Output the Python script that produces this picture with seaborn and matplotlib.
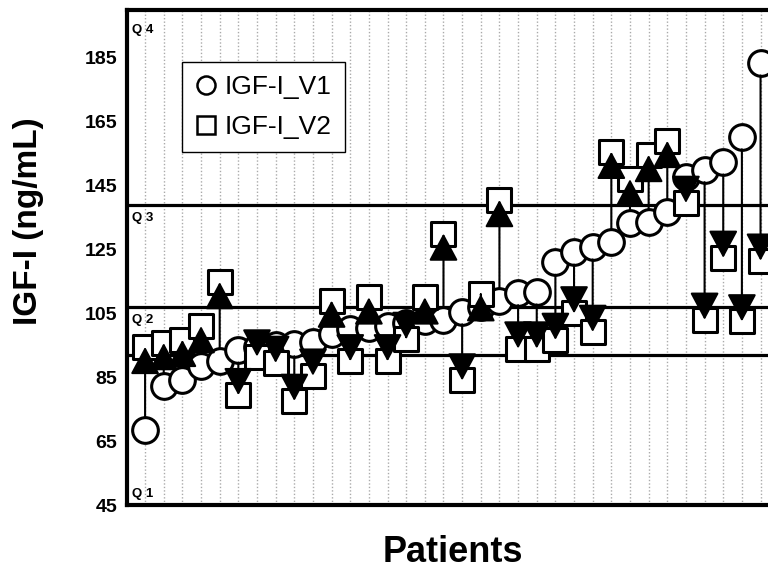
import numpy as np
import pandas as pd
import seaborn as sns
import matplotlib.pyplot as plt
from matplotlib.lines import Line2D

# ------------------------------------------------------------------
# Data: IGF-I at visit 1 (sorted) and visit 2, per patient
# ------------------------------------------------------------------
igf_v1 = [68.5, 82.3, 84.2, 88.5, 90.0, 93.5, 94.5, 95.0, 95.5, 96.0,
          98.5, 100.0, 100.5, 101.0, 102.0, 102.5, 103.0, 105.5, 107.0, 109.0,
          111.5, 111.7, 121.0, 124.2, 125.8, 127.5, 133.3, 133.5, 136.8, 147.7,
          150.0, 152.4, 160.3, 183.4]
igf_v2 = [94.5, 95.7, 96.7, 101.0, 114.8, 79.4, 91.5, 89.5, 77.6, 85.5,
          109.0, 90.0, 110.0, 90.0, 97.0, 110.0, 130.0, 84.0, 111.0, 140.5,
          94.0, 94.0, 96.7, 105.0, 99.2, 155.6, 147.0, 154.6, 159.0, 139.6,
          103.0, 122.4, 102.5, 121.5]
quartile_cuts = [92, 107, 139]
quartile_labels = ['Q 1', 'Q 2', 'Q 3', 'Q 4']

df = pd.DataFrame({'patient': np.arange(len(igf_v1)), 'v1': igf_v1, 'v2': igf_v2})

# ------------------------------------------------------------------
# Plot
# ------------------------------------------------------------------
sns.set_style('white')
plt.rcParams['font.family'] = ['Liberation Sans', 'DejaVu Sans']
plt.rcParams.update({'text.color': 'black', 'axes.labelcolor': 'black',
                     'xtick.color': 'black', 'ytick.color': 'black'})

fig = plt.figure(figsize=(7.68, 5.74), dpi=100)
ax = fig.add_axes([127 / 768, 69 / 574, 641 / 768, 495 / 574])

# quartile lines
for c in quartile_cuts:
    ax.axhline(c, color='black', lw=2.3, zorder=1)

# arrows V1 -> V2
for _, r in df.iterrows():
    ax.annotate('', xy=(r.patient, r.v2), xytext=(r.patient, r.v1),
                arrowprops=dict(arrowstyle='-|>,head_length=0.75,head_width=0.4',
                                color='black', lw=1.5, shrinkA=9, shrinkB=0,
                                mutation_scale=23),
                zorder=5)

sns.scatterplot(data=df, x='patient', y='v1', marker='o', s=18.5 ** 2, color='white',
                edgecolor='black', linewidth=2.2, ax=ax, zorder=3, legend=False)
sns.scatterplot(data=df, x='patient', y='v2', marker='s', s=17 ** 2, color='white',
                edgecolor='black', linewidth=2.2, ax=ax, zorder=4, legend=False)

ax.set_xlim(-0.97, 33.4)
ax.set_ylim(45, 200)
ax.set_yticks(range(45, 186, 20))
ax.set_xticks(df['patient'])
ax.set_xticklabels([])
ax.grid(axis='x', linestyle=(0, (1, 1.5)), color='#aaaaaa', lw=1, zorder=0)
ax.tick_params(axis='both', length=0)
ax.tick_params(axis='y', pad=7, labelsize=14)
for lab in ax.get_yticklabels():
    lab.set_fontweight('bold')

for side in ['left', 'top', 'bottom']:
    ax.spines[side].set_linewidth(3)
    ax.spines[side].set_color('black')
ax.spines['right'].set_visible(False)

# quartile labels
for lab, y, va in zip(quartile_labels, [46.5, quartile_cuts[1] - 2.3,
                                        quartile_cuts[2] - 2.3, 195.5],
                      ['bottom', 'top', 'top', 'top']):
    ax.text(-0.72, y, lab, fontsize=9.5, fontweight='bold', va=va, ha='left', zorder=6)

ax.set_xlabel('Patients', fontsize=26, fontweight='bold')
ax.set_ylabel('IGF-I (ng/mL)', fontsize=24, fontweight='bold')
ax.xaxis.set_label_coords(0.509, -0.06)
ax.yaxis.set_label_coords(-0.13, 0.574)

handles = [Line2D([], [], marker='o', ls='', markersize=13, markerfacecolor='white',
                  markeredgecolor='black', markeredgewidth=1.8, label='IGF-I_V1'),
           Line2D([], [], marker='s', ls='', markersize=13, markerfacecolor='white',
                  markeredgecolor='black', markeredgewidth=1.8, label='IGF-I_V2')]
leg = ax.legend(handles=handles, loc='upper left', bbox_to_anchor=(0.086, 0.895),
                borderaxespad=0, fancybox=False, edgecolor='black', framealpha=1,
                fontsize=19, handlelength=0.8, handletextpad=0.3, labelspacing=0.6,
                borderpad=0.5)
leg.get_frame().set_linewidth(1)
leg.set_zorder(10)

plt.savefig('out.png', dpi=100)
